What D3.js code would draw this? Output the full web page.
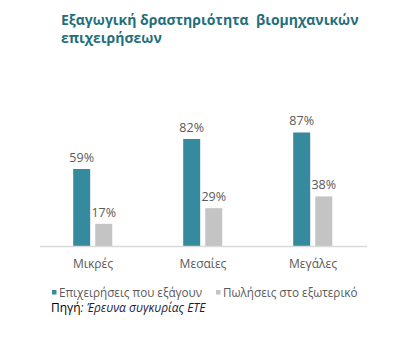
<!DOCTYPE html>
<html>
<head>
<meta charset="utf-8">
<script src="https://cdn.jsdelivr.net/npm/d3@7"></script>
<style>
  html, body { margin: 0; padding: 0; background: #fff; }
  svg { display: block; font-family: "Open Sans", "Noto Sans", sans-serif; }
</style>
</head>
<body>
<svg id="chart" width="411" height="347"></svg>
<script>
// Export activity of industrial firms by firm size
const categories = ["Μικρές", "Μεσαίες", "Μεγάλες"];
const seriesNames = ["Επιχειρήσεις που εξάγουν", "Πωλήσεις στο εξωτερικό"];
const exporters = [59, 82, 87];
const foreignSales = [17, 29, 38];
const titleLines = ["Εξαγωγική δραστηριότητα  βιομηχανικών", "επιχειρήσεων"];

const colors = ["#368a9e", "#c4c4c4"];
const svg = d3.select("#chart");

const rows = categories.map((c, i) => ({ cat: c, values: [exporters[i], foreignSales[i]] }));

const x = d3.scaleBand().domain(categories).range([38, 368]).padding(0);
const xInner = d3.scaleBand().domain(d3.range(seriesNames.length))
  .range([x.bandwidth() * 0.32, x.bandwidth() * 0.675]).paddingInner(0.23);
const y = d3.scaleLinear().domain([0, 100]).range([246, 115.5]);

// title
svg.append("text")
  .attr("x", 61).attr("y", 25)
  .attr("fill", "#1f6f7c").attr("font-weight", "bold").attr("font-size", 14)
  .selectAll("tspan").data(titleLines).join("tspan")
  .attr("x", 61).attr("dy", (d, i) => i === 0 ? 0 : 18)
  .attr("xml:space", "preserve")
  .style("white-space", "pre")
  .text(d => d);

// bars
const groups = svg.append("g").selectAll("g").data(rows).join("g")
  .attr("transform", d => `translate(${x(d.cat)},0)`);

groups.selectAll("rect").data(d => d.values).join("rect")
  .attr("x", (d, i) => xInner(i))
  .attr("width", xInner.bandwidth())
  .attr("y", d => y(d))
  .attr("height", d => y(0) - y(d))
  .attr("fill", (d, i) => colors[i]);

groups.selectAll("text.val").data(d => d.values).join("text")
  .attr("class", "val")
  .attr("x", (d, i) => xInner(i) + xInner.bandwidth() / 2)
  .attr("y", d => y(d) - 7)
  .attr("text-anchor", "middle")
  .attr("font-size", 12.5).attr("fill", "#595959")
  .text(d => d + "%");

// category axis
const axis = svg.append("g").attr("transform", `translate(0,${y(0)})`)
  .call(d3.axisBottom(x).tickSize(0).tickPadding(13));
axis.select(".domain").attr("stroke", "#d9d9d9").attr("stroke-width", 1.5)
  .attr("d", "M40,0.5H367");
axis.selectAll("text").attr("font-size", 12).attr("fill", "#595959")
  .attr("font-family", "Open Sans, sans-serif");

// legend
const legend = svg.append("g").attr("transform", "translate(0,297)");
const legendX = [52, 216];
seriesNames.forEach((name, i) => {
  legend.append("rect").attr("x", legendX[i]).attr("y", -7).attr("width", 4.5).attr("height", 4.5)
    .attr("fill", colors[i]);
  legend.append("text").attr("x", legendX[i] + 7).attr("y", 0)
    .attr("font-size", 11.7).attr("fill", "#595959")
    .text(name);
});

// source note
const src = svg.append("text").attr("x", 51).attr("y", 312).attr("font-size", 12);
src.append("tspan").attr("fill", "#000").text("Πηγή");
src.append("tspan").attr("fill", "#1b1b40").attr("font-style", "italic").text(": Έρευνα συγκυρίας ΕΤΕ");
</script>
</body>
</html>
